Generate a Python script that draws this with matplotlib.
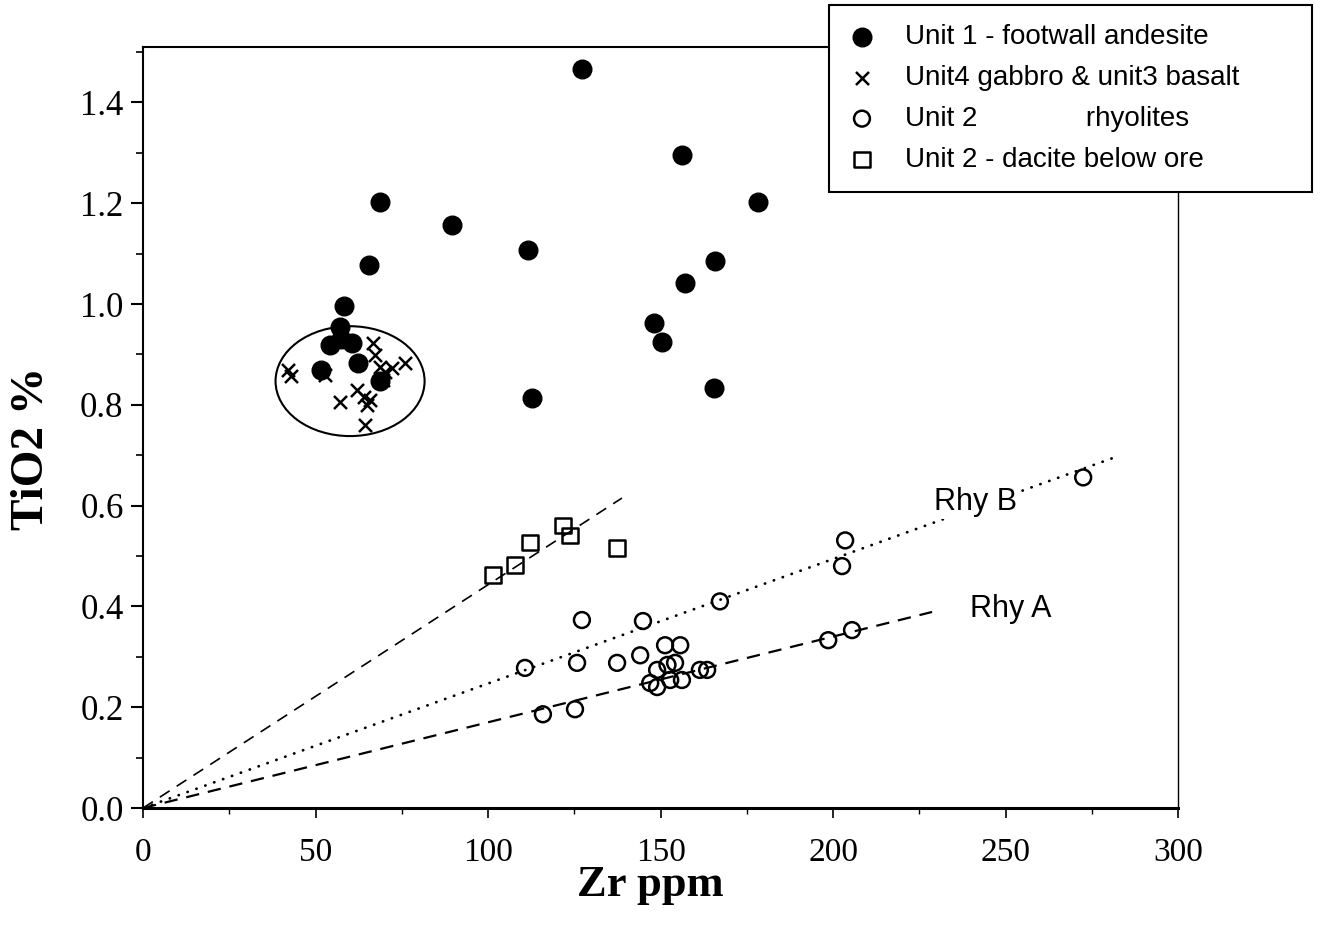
import matplotlib
matplotlib.use("Agg")
import matplotlib.pyplot as plt
from matplotlib.patches import Ellipse
from matplotlib.ticker import MultipleLocator, FormatStrFormatter

# Unit 1 - footwall andesite (filled circles)
andesite_zr = [127.2, 156.2, 178.3, 68.7, 89.6, 111.6, 65.5, 165.8, 157.1, 148.1,
               150.4, 165.5, 112.8, 58.3, 57.1, 54.2, 57.5, 60.5, 51.6, 62.3, 68.7]
andesite_ti = [1.467, 1.295, 1.202, 1.202, 1.156, 1.108, 1.077, 1.085, 1.041, 0.962,
               0.924, 0.833, 0.813, 0.997, 0.954, 0.918, 0.930, 0.922, 0.869, 0.884, 0.847]

# Unit 4 gabbro & unit 3 basalt (crosses)
basalt_zr = [42.0, 42.9, 52.8, 66.7, 67.2, 68.7, 72.2, 75.9, 70.1, 69.6,
             57.1, 62.0, 64.1, 64.9, 64.3, 65.8]
basalt_ti = [0.869, 0.857, 0.859, 0.922, 0.898, 0.876, 0.874, 0.884, 0.865, 0.849,
             0.805, 0.829, 0.815, 0.799, 0.759, 0.810]

# Unit 2 rhyolites (open circles)
rhyolite_zr = [272.5, 203.5, 202.6, 167.2, 144.9, 127.2, 205.5, 198.6, 110.7, 125.8,
               137.4, 115.9, 125.2, 144.1, 151.3, 155.7, 149.0, 154.2, 152.0, 161.4,
               163.5, 147.0, 149.0, 152.8, 156.2]
rhyolite_ti = [0.656, 0.531, 0.480, 0.410, 0.371, 0.373, 0.353, 0.333, 0.278, 0.288,
               0.288, 0.186, 0.196, 0.303, 0.323, 0.323, 0.274, 0.288, 0.284, 0.274,
               0.274, 0.248, 0.240, 0.254, 0.254]

# Unit 2 - dacite below ore (open squares)
dacite_zr = [101.4, 107.8, 112.2, 121.7, 123.8, 137.4]
dacite_ti = [0.462, 0.482, 0.527, 0.561, 0.541, 0.516]

# trend lines from the origin
dacite_line = ([0, 138.8], [0, 0.615])
rhy_b_line = ([0, 280.9], [0, 0.694])
rhy_a_line = ([0, 228.7], [0, 0.389])

legend_labels = ["Unit 1 - footwall andesite",
                 "Unit4 gabbro & unit3 basalt",
                 "Unit 2" + " " * 14 + "rhyolites",
                 "Unit 2 - dacite below ore"]

plt.rcParams["font.family"] = ["Liberation Serif", "DejaVu Serif"]

fig = plt.figure(figsize=(13.21, 9.31), dpi=100)
ax = fig.add_axes([0.1083, 0.1321, 0.7835, 0.8174])

ax.plot(*dacite_line, color="black", lw=1.2, linestyle=(0, (7, 5)))
ax.plot(*rhy_b_line, color="black", lw=2.0, linestyle=(0, (0.1, 3.3)),
        dash_capstyle="round")
ax.plot(*rhy_a_line, color="black", lw=1.6, linestyle=(0, (6, 4)))

ax.add_patch(Ellipse((60.0, 0.847), 43.2, 0.218, fill=False,
                     edgecolor="black", lw=1.5))

h1 = ax.scatter(andesite_zr, andesite_ti, s=180, color="black", zorder=3)
h2 = ax.scatter(basalt_zr, basalt_ti, s=88, marker="x", color="black",
                linewidths=1.8, zorder=4)
h3 = ax.scatter(rhyolite_zr, rhyolite_ti, s=130, facecolors="none",
                edgecolors="black", linewidths=1.8, zorder=3)
h4 = ax.scatter(dacite_zr, dacite_ti, s=125, marker="s", facecolors="none",
                edgecolors="black", linewidths=1.8, zorder=3)

ax.text(241.2, 0.607, "Rhy B", fontsize=22, family="Liberation Sans",
        ha="center", va="center", zorder=5,
        bbox=dict(facecolor="white", edgecolor="none", pad=1))
ax.text(251.6, 0.395, "Rhy A", fontsize=22, family="Liberation Sans",
        ha="center", va="center")

ax.set_xlim(0, 300)
ax.set_ylim(0, 1.51)
ax.xaxis.set_major_locator(MultipleLocator(50))
ax.xaxis.set_minor_locator(MultipleLocator(25))
ax.yaxis.set_major_locator(MultipleLocator(0.2))
ax.yaxis.set_minor_locator(MultipleLocator(0.1))
ax.yaxis.set_major_formatter(FormatStrFormatter("%.1f"))

ax.tick_params(axis="y", which="major", direction="out", length=9, width=1.5,
               labelsize=25, pad=5)
ax.tick_params(axis="y", which="minor", direction="out", length=5, width=1.2)
ax.tick_params(axis="x", which="major", direction="out", length=7, width=1.2,
               labelsize=24, pad=14)
ax.tick_params(axis="x", which="minor", direction="out", length=4, width=1.0)

ax.spines["left"].set_linewidth(1.5)
ax.spines["bottom"].set_linewidth(2.2)
ax.spines["top"].set_linewidth(1.5)
ax.spines["right"].set_linewidth(1.0)

ax.set_xlabel("Zr ppm", fontsize=32, fontweight="bold")
ax.xaxis.set_label_coords(0.49, -0.075)
ax.set_ylabel("TiO2 %", fontsize=34, fontweight="bold")
ax.yaxis.set_label_coords(-0.087, 0.472)

leg = ax.legend([h1, h2, h3, h4], legend_labels,
                loc="upper left", mode="expand",
                bbox_to_anchor=(0.6276, 0.7927, 0.3656, 0.2019),
                bbox_transform=fig.transFigure, borderaxespad=0,
                prop={"family": "Liberation Sans", "size": 20},
                frameon=True, fancybox=False, framealpha=1,
                edgecolor="black", borderpad=0.7, handlelength=0.97,
                handletextpad=1.06, labelspacing=0.53, scatterpoints=1)
leg.get_frame().set_linewidth(1.5)
leg.set_zorder(10)

fig.savefig("out.png", dpi=100)
